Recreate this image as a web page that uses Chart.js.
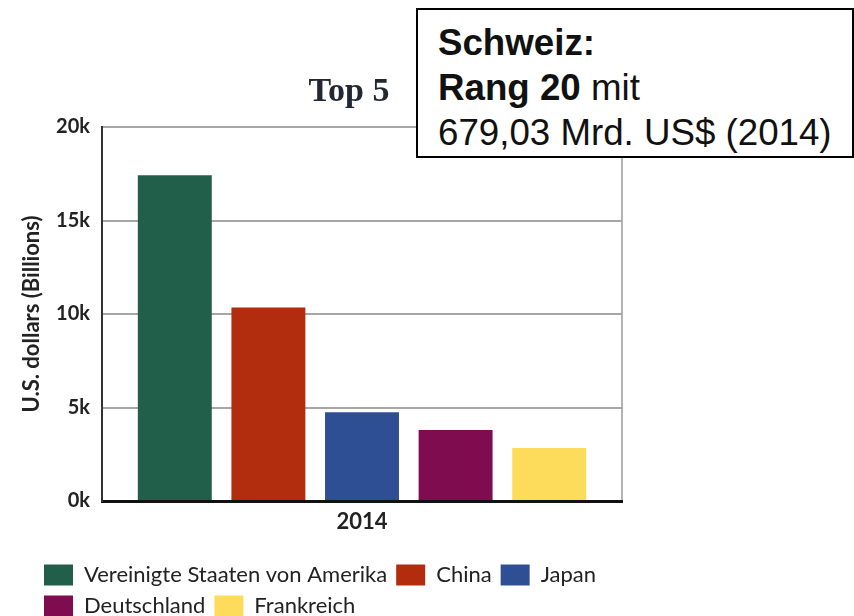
<!DOCTYPE html>
<html>
<head>
<meta charset="utf-8">
<script src="https://cdn.jsdelivr.net/npm/chart.js@4/dist/chart.umd.min.js"></script>
<style>
  html, body { margin: 0; padding: 0; background: #fff; }
  #wrap { position: relative; width: 854px; height: 616px; overflow: hidden; }
  #bip { position: absolute; left: 0; top: 0; }
  #infobox {
    position: absolute; left: 416px; top: 8px; width: 398px; height: 120px;
    padding: 10px 16px 16px 20px;
    border: 2px solid #000; background: #fff;
    font-family: "Liberation Sans", Arial, sans-serif; font-size: 36.7px; line-height: 45px; color: #111;
    white-space: nowrap;
  }
</style>
</head>
<body>
<div id="wrap">
  <canvas id="bip" width="854" height="616"></canvas>
  <div id="infobox"><b>Schweiz:</b><br><b>Rang 20</b> mit<br>679,03 Mrd. US$ (2014)</div>
</div>
<script>
// BIP 2014, Mrd. US$
const jahre = ['2014'];
const laender = ['Vereinigte Staaten von Amerika', 'China', 'Japan', 'Deutschland', 'Frankreich'];
const werte = [17420, 10350, 4750, 3800, 2830];
const farben = ['#225f4b', '#b22d0d', '#2f4f95', '#7e0c4f', '#fddc5c'];
const yTicks = [0, 5000, 10000, 15000, 20000];

const datasets = laender.map(function(name, i) {
    return { label: name, data: [werte[i]], backgroundColor: farben[i], borderWidth: 0 };
});

// Titel "Top 5" (Serifenschrift, leicht links der Mitte)
const topTitel = {
    id: 'topTitel',
    afterDraw: function(chart) {
        const ctx = chart.ctx;
        ctx.save();
        ctx.font = 'bold 34px "Liberation Serif", serif';
        ctx.fillStyle = '#222831';
        ctx.textAlign = 'center';
        ctx.textBaseline = 'alphabetic';
        ctx.fillText('Top 5', 349, 101);
        ctx.restore();
    }
};

const ctx = document.getElementById('bip').getContext('2d');
new Chart(ctx, {
    type: 'bar',
    data: { labels: jahre, datasets: datasets },
    plugins: [topTitel],
    options: {
        responsive: false,
        animation: false,
        datasets: { bar: { categoryPercentage: 0.9, barPercentage: 0.79 } },
        layout: { padding: { top: 127, left: 35, right: 232, bottom: -11 } },
        plugins: {
            title: { display: false },
            tooltip: { enabled: false },
            legend: {
                position: 'bottom',
                align: 'start',
                labels: {
                    boxWidth: 29, boxHeight: 21, padding: 9,
                    color: '#222',
                    font: { family: 'Lato', size: 22 }
                }
            }
        },
        scales: {
            x: {
                afterFit: function(scale) { scale.height = 54; },
                grid: {
                    drawTicks: false, lineWidth: 2,
                    color: function(c) { return c.index === 0 ? 'rgba(0,0,0,0)' : '#b4b4b4'; }
                },
                border: { color: '#111', width: 3 },
                ticks: { padding: 8, color: '#222', font: { family: 'Lato', size: 22, weight: 'bold' } }
            },
            y: {
                min: 0, max: 20000,
                afterFit: function(scale) { scale.width = 67; },
                afterBuildTicks: function(scale) { scale.ticks = yTicks.map(function(v) { return { value: v }; }); },
                grid: { drawTicks: false, color: '#a6a6a6', lineWidth: 2 },
                border: { color: '#333', width: 2 },
                ticks: {
                    padding: 12, color: '#222',
                    font: { family: 'Lato', size: 20, weight: 'bold' },
                    callback: function(v) { return (v / 1000) + 'k'; }
                },
                title: {
                    display: true, text: 'U.S. dollars (Billions)', color: '#222',
                    padding: { top: -16, bottom: 0 },
                    font: { family: 'Lato', size: 22, weight: 'bold' }
                }
            }
        }
    }
});
</script>
</body>
</html>
